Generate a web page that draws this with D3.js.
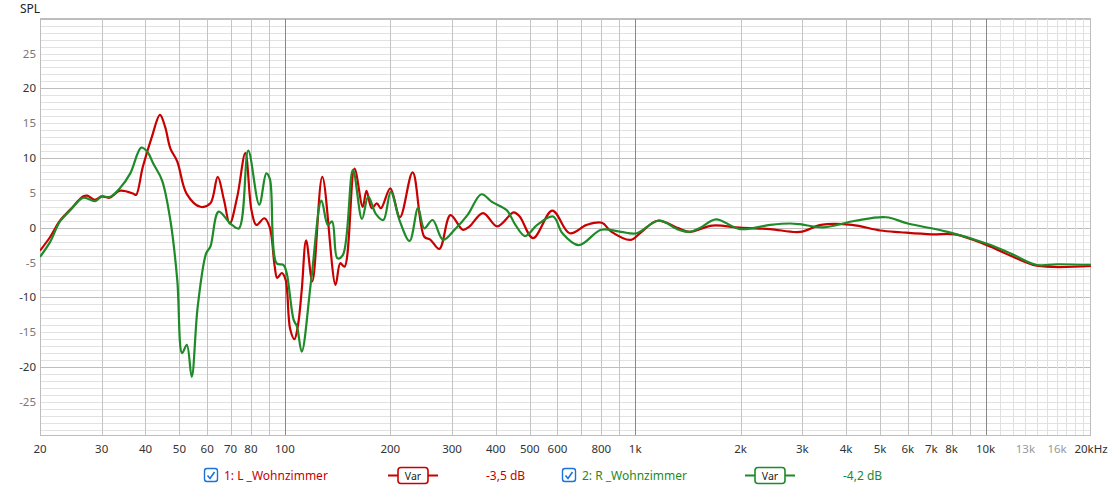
<!DOCTYPE html>
<html><head><meta charset="utf-8">
<script src="https://cdn.jsdelivr.net/npm/d3@7"></script>
<style>
body{margin:0;background:#fff;}
svg{display:block;font-family:"Noto Sans","Open Sans",sans-serif;}
</style>
</head><body>
<svg id="c" width="1111" height="487"></svg>
<script>
// ---- data ----
const lFreq = [20,21.4,22.8,24.4,26.6,27.3,28.7,30,31.6,33.8,36.9,37.6,39.3,41.7,44,45.5,47.1,49.3,52.4,57.4,61.3,64.3,67,69.6,73.1,77.1,80.3,82.9,87.4,90.6,93.5,95.1,98,100.5,103.5,106.5,109,111.7,115,119.8,127.9,139.5,143.9,148,158,166.8,171,177,183,188,200,213,231.6,250,260,276,297,322,336,368,404,450,468,511,580,650,727,803,856,971,1037,1157,1333,1430,1660,1990,2428,2954,3388,4159,5006,5723,7019,8181,10100,12020,14000,20000];
const lSpl  = [-3.3,-1.3,1.0,2.6,4.5,4.6,4.0,4.5,4.3,5.3,4.9,4.7,8.7,13.0,16.2,14.5,11.4,9.5,4.9,3.0,3.5,7.3,4.0,0.6,4.4,10.7,2.5,0.4,1.35,0.0,-5.5,-7.2,-6.5,-7.5,-14.5,-16.0,-14.0,-9.0,-1.8,-7.7,7.3,-8.2,-5.1,-5.6,8.5,3.0,5.3,2.8,3.5,2.8,5.65,1.5,7.95,-1.3,-1.7,-3.05,1.8,-0.3,0.15,2.1,0.2,2.2,1.6,-1.5,2.45,-0.8,0.4,0.7,-0.6,-1.75,-0.7,1.0,-0.1,-0.6,0.3,0.0,-0.2,-0.6,0.4,0.4,-0.4,-0.65,-0.95,-0.95,-2.5,-4.2,-5.45,-5.5];
const rFreq = [20,21.4,22.8,24.4,26.6,28.7,30,31.6,33.8,36.2,38.9,40.5,42.1,44.6,47.1,49.3,50.9,52.5,54.2,56.4,59.6,61.3,64.7,69.9,73.9,78.6,84.5,88.5,90.6,94.7,99.1,101.2,105.9,108.3,111.7,118.9,127.2,132.6,136.4,141.2,146.5,156.4,166,173,182,191,200.5,213,227,240,250,264,283,305,332,364,390,430,455,485,525,583,620,690,800,910,1010,1165,1333,1430,1534,1700,1990,2428,2766,2954,3450,4250,5200,6000,7800,10100,11800,14000,16000,20000];
const rSpl  = [-4.2,-2.0,0.9,2.5,4.3,3.8,4.5,4.4,5.65,7.8,11.5,10.9,9.2,6.8,1.1,-7.5,-18.0,-16.8,-21.4,-11.3,-3.7,-2.7,2.3,0.6,-0.1,11.05,3.3,7.8,7.0,-5.1,-5.35,-6.5,-13.2,-14.2,-17.8,-7.5,3.9,0.4,0.9,-4.4,-3.9,8.3,1.25,4.45,1.95,1.1,5.15,0.9,-1.9,2.8,-0.1,1.1,-1.75,-0.3,1.8,4.8,3.7,2.5,0.4,-1.2,0.4,1.6,-0.8,-2.5,-0.3,-0.6,-0.8,1.0,-0.3,-0.6,0.0,1.2,-0.2,0.4,0.6,0.5,0.05,1.0,1.5,0.6,-0.6,-2.3,-3.7,-5.35,-5.25,-5.35];
const xTickValues = [20,30,40,50,60,70,80,100,200,300,400,500,600,800,1000,2000,3000,4000,5000,6000,7000,8000,10000,13000,16000,20000];
const xTickLabels = ["20","30","40","50","60","70","80","100","200","300","400","500","600","800","1k","2k","3k","4k","5k","6k","7k","8k","10k","13k","16k","20kHz"];
const xTickLight = [13000,16000];
const yTickValues = [25,20,15,10,5,0,-5,-10,-15,-20,-25];
const seriesNames = ["1: L _Wohnzimmer","2: R _Wohnzimmer"];
const seriesOffsets = ["-3,5 dB","-4,2 dB"];
const seriesColors = ["#c80000","#1e8a28"];

(function(){
// ---- scales ----
const pL = 40, pR = 1091, pT = 18, pB = 436;
const x = d3.scaleLog().domain([20,20000]).range([pL,pR]);
const y = d3.scaleLinear().domain([-29.9,30.1]).range([pB,pT]);
const svg = d3.select("#c");

// ---- grid ----
const g = svg.append("g");
for (let v = -29; v <= 30; v++) {
  const major = v % 10 === 0;
  g.append("line").attr("x1",pL).attr("x2",pR)
    .attr("y1",Math.round(y(v))+0.5).attr("y2",Math.round(y(v))+0.5)
    .attr("stroke", major ? "#bdbdbd" : "#e2e2e2").attr("stroke-width",1);
}
const vlines = [];
[10,100,1000,10000].forEach(d => { for (let k=1;k<=9;k++){ const f=k*d; if (f>20 && f<20000) vlines.push({f, type: k===1 ? "dec" : "main"}); }});
for (let f=11000; f<20000; f+=1000) vlines.push({f, type:"fine"});
vlines.sort((a,b)=> (a.type==="dec") - (b.type==="dec"));
vlines.forEach(l => {
  const px = Math.round(x(l.f))+0.5;
  g.append("line").attr("x1",px).attr("x2",px).attr("y1",pT).attr("y2",pB)
    .attr("stroke", l.type==="dec" ? "#888" : (l.type==="main" ? "#c4c4c4" : "#e0e0e0")).attr("stroke-width",1);
});
g.append("rect").attr("x",pL+0.5).attr("y",pT+0.5).attr("width",pR-pL-1).attr("height",pB-pT-1)
  .attr("fill","none").attr("stroke","#bdbdbd");

// ---- axes labels ----
svg.append("text").attr("x",20).attr("y",13).attr("font-size",12).attr("fill","#222").text("SPL");
yTickValues.forEach(v => {
  svg.append("text").attr("x",36).attr("y",y(v)+4).attr("text-anchor","end")
    .attr("font-size",11.5).attr("fill", v%10===0 ? "#333" : "#777").text(v);
});
xTickValues.forEach((f,i) => {
  svg.append("text").attr("x",x(f)).attr("y",453).attr("text-anchor","middle")
    .attr("font-size",11.5).attr("fill", xTickLight.includes(f) ? "#999" : "#333").text(xTickLabels[i]);
});

// ---- curves ----
svg.append("clipPath").attr("id","pc").append("rect")
  .attr("x",pL).attr("y",pT).attr("width",pR-pL).attr("height",pB-pT);
const line = d3.line().x(d=>x(d[0])).y(d=>y(d[1])).curve(d3.curveCatmullRom.alpha(0.5));
const lData = d3.zip(lFreq,lSpl), rData = d3.zip(rFreq,rSpl);
[lData,rData].forEach((data,i) => {
  svg.append("path").attr("d",line(data)).attr("fill","none")
    .attr("stroke",seriesColors[i]).attr("stroke-width",2.2).attr("stroke-linejoin","round")
    .attr("clip-path","url(#pc)");
});

// ---- legend ----
const legendX = [[204,224,388,486],[562,582,745,843]];
const ly = 475.5;
seriesNames.forEach((name,i) => {
  const [cbx, tx, lx, ox] = legendX[i];
  const lg = svg.append("g");
  lg.append("rect").attr("x",cbx+0.5).attr("y",ly-7).attr("width",13).attr("height",13).attr("rx",2.5)
    .attr("fill","#fff").attr("stroke","#1a73d9").attr("stroke-width",1.4);
  lg.append("path").attr("d",`M${cbx+3.5},${ly} L${cbx+6},${ly+3} L${cbx+10.5},${ly-3.5}`)
    .attr("fill","none").attr("stroke","#1a73d9").attr("stroke-width",1.6);
  lg.append("text").attr("x",tx).attr("y",ly+4.5).attr("font-size",12).attr("fill",seriesColors[i]).text(name);
  lg.append("line").attr("x1",lx).attr("x2",lx+50).attr("y1",ly).attr("y2",ly)
    .attr("stroke",seriesColors[i]).attr("stroke-width",2);
  lg.append("rect").attr("x",lx+10).attr("y",ly-8).attr("width",30).attr("height",16).attr("rx",3)
    .attr("fill","#fff").attr("stroke",seriesColors[i]).attr("stroke-width",1.6);
  lg.append("text").attr("x",lx+25).attr("y",ly+4).attr("text-anchor","middle").attr("font-size",10.5).attr("fill","#222").text("Var");
  lg.append("text").attr("x",ox).attr("y",ly+4.5).attr("font-size",12).attr("fill",seriesColors[i]).text(seriesOffsets[i]);
});
})();
</script>
</body></html>
